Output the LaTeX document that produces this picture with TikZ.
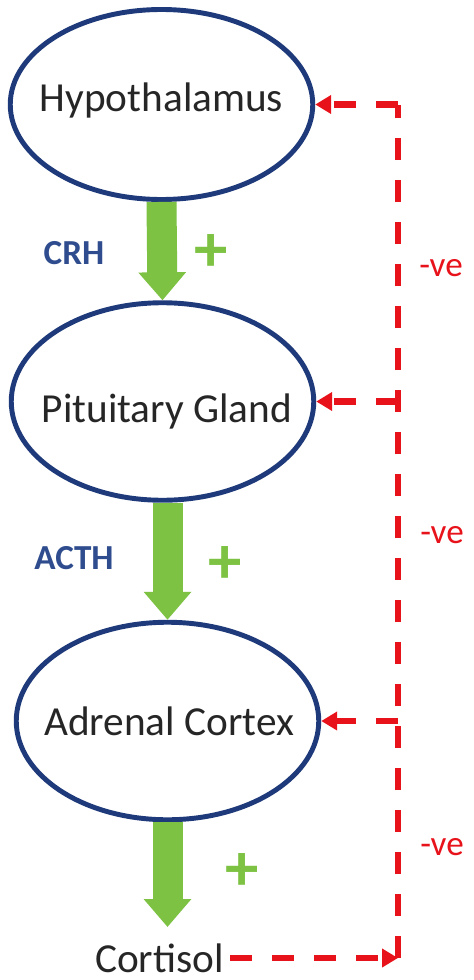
\documentclass[tikz,border=0pt]{standalone}
\usepackage{fontspec}
\setmainfont{Carlito}
\usepackage{tikz}
\usetikzlibrary{positioning,arrows.meta,shapes.geometric}
\definecolor{hpline}{HTML}{1F3A7A}
\definecolor{hptext}{HTML}{262626}
\definecolor{hplab}{HTML}{2F4D8E}
\definecolor{hpgreen}{HTML}{7DC242}
\definecolor{hpred}{HTML}{E8121B}

\begin{document}
\begin{tikzpicture}[
  font=\fontsize{23.5}{27}\selectfont,
  gland/.style={ellipse, draw=hpline, line width=2.8pt, fill=white,
                minimum width=6.05cm, minimum height=3.8cm, inner sep=0pt},
  gname/.style={text=hptext},
  stim/.style={draw=hpgreen, line width=0.6cm, -{Triangle[length=0.56cm,width=0.92cm]}},
  fb/.style={draw=hpred, line width=3.6pt, dash pattern=on 0.44cm off 0.4cm},
  fbtip/.style={-{Triangle[length=0.32cm,width=0.36cm]}},
  hlab/.style={font=\fontsize{20}{23}\selectfont\bfseries, text=hplab},
  sign/.style={font=\fontsize{38}{40}\selectfont\bfseries, text=hpgreen},
  vlab/.style={font=\fontsize{20}{23}\selectfont, text=hpred},
]
  \path[use as bounding box, fill=white] (0,0) rectangle (9.48,-19.6);

  % ---- axis: glands -------------------------------------------------------
  \node[gland] (hyp) at (3.23,-2.09) {};
  \node[gland, minimum height=3.95cm] (pit) at (3.25,-8.03) {};
  \node[gland, minimum height=3.95cm] (adr) at (3.35,-14.42) {};
  \node[gname] (hypt) at ([yshift=0.08cm]hyp.center) {Hypothalamus};
  \node[gname] (pitt) at ([xshift=0.09cm, yshift=-0.2cm]pit.center) {Pituitary Gland};
  \node[gname] (adrt) at ([xshift=0.03cm]adr.center) {Adrenal Cortex};
  \node[gname] (cort) at (3.19,-19.16) {Cortisol};

  % ---- stimulation ----------------------------------------------------------
  \coordinate (ctip) at (adr.south |- 0,-18.54);
  \draw[stim] (hyp.south) -- (pit.north);
  \draw[stim] (adr.north |- pit.south) -- (adr.north);
  \draw[stim] (adr.south) -- (ctip);
  \node[hlab] at (1.48,-5.06) {CRH};
  \node[hlab] at (1.48,-11.16) {ACTH};
  \node[sign] at (4.22,-5.06) {+};
  \node[sign] at (4.50,-11.30) {+};
  \node[sign] at (4.84,-17.44) {+};

  % ---- negative feedback ----------------------------------------------------
  \coordinate (fbB) at (cort.east -| 7.96,0);
  \draw[fb, fbtip] (cort.east) -- (fbB);
  \draw[fb] (fbB) -- (fbB |- hyp.east);
  \draw[fb, fbtip] (fbB |- hyp.east) -- (hyp.east);
  \draw[fb, fbtip] (fbB |- pit.east) -- (pit.east);
  \draw[fb, fbtip] (fbB |- adr.east) -- (adr.east);
  \node[vlab] at (8.82,-5.36) {-ve};
  \node[vlab] at (8.84,-10.70) {-ve};
  \node[vlab] at (8.84,-16.94) {-ve};
\end{tikzpicture}
\end{document}
